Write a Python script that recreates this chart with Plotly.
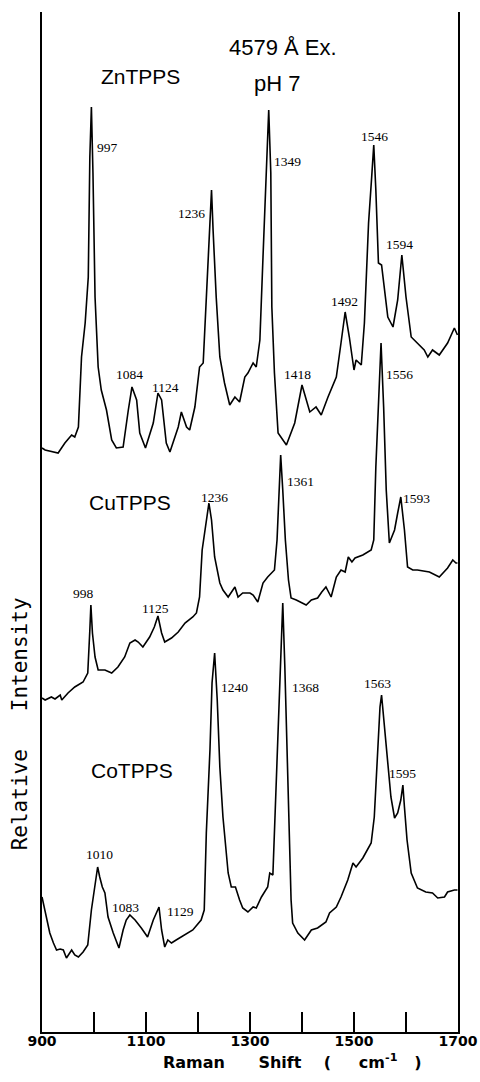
import plotly.graph_objects as go

# ---- data (Raman shift in cm-1, relative intensity in arbitrary units) ----
zn_shift = [900, 906, 931, 944, 957, 963, 970, 976, 983, 989, 992, 995, 998, 1002, 1008, 1014, 1024, 1034, 1043,
            1056, 1066, 1073, 1082, 1088, 1099, 1114, 1123, 1130, 1139, 1146, 1162, 1168, 1178, 1184, 1194, 1203,
            1210, 1216, 1221, 1226, 1229, 1235, 1242, 1251, 1261, 1271, 1280, 1290, 1296, 1306, 1312, 1319, 1325,
            1331, 1336, 1340, 1342, 1347, 1354, 1370, 1386, 1400, 1415, 1427, 1437, 1450, 1466, 1475, 1483, 1491,
            1500, 1504, 1514, 1520, 1528, 1534, 1538, 1542, 1547, 1553, 1559, 1565, 1575, 1584, 1592, 1600, 1610,
            1622, 1635, 1642, 1651, 1664, 1680, 1693, 1699]
zn_int = [584, 582, 579, 589, 597, 595, 605, 675, 709, 755, 875, 925, 859, 735, 665, 642, 622, 592, 584,
          585, 622, 645, 632, 599, 584, 609, 639, 632, 589, 580, 605, 620, 605, 602, 625, 665,
          669, 735, 792, 842, 802, 735, 675, 649, 627, 635, 630, 655, 659, 669, 665, 692, 775,
          859, 922, 859, 725, 659, 599, 587, 609, 647, 620, 625, 617, 635, 655, 689, 720, 695,
          662, 672, 667, 709, 809, 855, 887, 842, 769, 767, 742, 715, 705, 732, 777, 735, 695,
          689, 682, 675, 682, 677, 689, 704, 697]

cu_shift = [900, 906, 918, 925, 935, 938, 950, 963, 979, 988, 992, 994, 997, 1002, 1008, 1021, 1034, 1046, 1059,
            1069, 1079, 1085, 1094, 1107, 1116, 1123, 1130, 1136, 1149, 1162, 1175, 1190, 1197, 1203, 1208, 1213,
            1221, 1226, 1232, 1242, 1248, 1258, 1264, 1271, 1277, 1286, 1300, 1306, 1315, 1325, 1334, 1347, 1352,
            1356, 1359, 1363, 1368, 1374, 1379, 1389, 1398, 1408, 1418, 1430, 1438, 1446, 1456, 1466, 1475, 1483,
            1489, 1496, 1502, 1517, 1533, 1538, 1542, 1548, 1552, 1557, 1562, 1568, 1578, 1584, 1590, 1597, 1603,
            1613, 1622, 1645, 1664, 1680, 1690, 1696, 1699]
cu_int = [334, 332, 335, 333, 337, 332, 339, 345, 350, 359, 402, 427, 399, 375, 362, 362, 359, 365, 375,
          389, 392, 390, 385, 395, 405, 416, 399, 390, 394, 400, 409, 415, 419, 435, 482, 499,
          529, 512, 475, 449, 442, 435, 440, 445, 435, 439, 439, 437, 430, 449, 455, 462, 492,
          552, 577, 542, 492, 452, 434, 432, 430, 427, 432, 434, 440, 445, 435, 455, 462, 460,
          475, 470, 474, 477, 482, 492, 565, 642, 689, 625, 542, 489, 502, 519, 535, 502, 465,
          462, 462, 460, 455, 464, 472, 469, 469]

co_shift = [900, 902, 909, 915, 922, 928, 935, 941, 947, 954, 957, 963, 970, 979, 988, 995, 1002, 1007, 1011,
            1016, 1021, 1027, 1037, 1048, 1056, 1062, 1069, 1079, 1091, 1103, 1114, 1125, 1130, 1136, 1142, 1149,
            1158, 1175, 1190, 1206, 1212, 1216, 1223, 1227, 1232, 1237, 1242, 1248, 1258, 1264, 1272, 1280, 1286,
            1296, 1306, 1312, 1322, 1334, 1338, 1344, 1347, 1352, 1357, 1363, 1367, 1372, 1376, 1379, 1382, 1392,
            1405, 1418, 1430, 1446, 1453, 1466, 1475, 1488, 1498, 1504, 1517, 1533, 1539, 1546, 1550, 1553, 1557,
            1565, 1571, 1578, 1584, 1590, 1594, 1597, 1602, 1610, 1622, 1638, 1651, 1661, 1674, 1680, 1693, 1699]
co_int = [135, 130, 112, 99, 89, 82, 83, 82, 74, 79, 82, 77, 75, 80, 87, 122, 145, 165, 155,
          145, 139, 115, 99, 84, 102, 112, 117, 112, 104, 95, 112, 125, 102, 85, 92, 89,
          92, 97, 102, 112, 122, 199, 282, 349, 379, 332, 265, 215, 159, 145, 145, 132, 124,
          120, 125, 124, 135, 145, 159, 157, 199, 282, 349, 429, 365, 265, 199, 132, 109, 99,
          92, 102, 104, 110, 119, 125, 135, 152, 169, 165, 174, 189, 215, 289, 325, 337, 315,
          272, 235, 214, 219, 232, 247, 225, 192, 159, 144, 140, 139, 134, 135, 140, 142, 142]

# peak labels: (text, shift, intensity)
peak_labels = [
    ("997", 1025, 885), ("1236", 1188, 819), ("1349", 1372, 871), ("1546", 1540, 896),
    ("1594", 1587, 788), ("1492", 1481, 731), ("1084", 1068, 658), ("1124", 1137, 645),
    ("1418", 1392, 658), ("1556", 1588, 658),
    ("1236", 1231, 535), ("1361", 1398, 551), ("1593", 1620, 534), ("998", 979, 439), ("1125", 1118, 424),
    ("1240", 1271, 345), ("1368", 1406, 345), ("1563", 1546, 349), ("1595", 1594, 259),
    ("1010", 1011, 178), ("1083", 1060, 125), ("1129", 1166, 121),
]
sample_labels = [("ZnTPPS", 1089, 956), ("CuTPPS", 1070, 530), ("CoTPPS", 1073, 262)]
title_lines = [("4579 Å Ex.", 1363, 985), ("pH 7", 1351, 949)]

tick_vals = [900, 1100, 1300, 1500, 1700]
tick_text = ["900", "1100", "1300", "1500", "1700"]

x_title = ("Raman" + "&nbsp;" * 6 + "Shift" + "&nbsp;" * 4 + "(" + "&nbsp;" * 5
           + "cm<sup>-1</sup>" + "&nbsp;" * 3 + ")")
y_title = "Relative" + "&nbsp;" * 3 + "Intensity"

fig = go.Figure()
for xs, ys in [(zn_shift, zn_int), (cu_shift, cu_int), (co_shift, co_int)]:
    fig.add_trace(go.Scatter(x=xs, y=ys, mode="lines",
                             line=dict(color="black", width=1.6), showlegend=False))

annotations = []
for t, x, y in peak_labels:
    annotations.append(dict(text=t, x=x, y=y, xref="x", yref="y", showarrow=False,
                            font=dict(family="Liberation Serif", size=13.5, color="black")))
for t, x, y in sample_labels:
    annotations.append(dict(text=t, x=x, y=y, xref="x", yref="y", showarrow=False,
                            font=dict(family="Liberation Sans", size=21, color="black")))
for t, x, y in title_lines:
    annotations.append(dict(text=t, x=x, y=y, xref="x", yref="y", showarrow=False,
                            font=dict(family="Liberation Sans", size=22, color="black")))
annotations.append(dict(text=x_title, x=0.602, y=-0.029,
                        xref="paper", yref="paper", showarrow=False,
                        xanchor="center", yanchor="middle",
                        font=dict(family="DejaVu Sans", size=16, color="black", weight="bold")))
annotations.append(dict(text=y_title, x=-0.052, y=0.302,
                        xref="paper", yref="paper", showarrow=False, textangle=-90,
                        xanchor="center", yanchor="middle",
                        font=dict(family="DejaVu Sans Mono", size=21, color="black")))

fig.update_layout(
    width=480, height=1082, autosize=False,
    margin=dict(l=42, r=22, t=12, b=50, autoexpand=False),
    paper_bgcolor="white", plot_bgcolor="white",
    annotations=annotations,
    xaxis=dict(range=[900, 1700], tickvals=tick_vals, ticktext=tick_text,
               ticks="inside", ticklen=20, tickwidth=2, tickcolor="black",
               minor=dict(dtick=100, tick0=900, ticks="inside", ticklen=20, tickwidth=2,
                          tickcolor="black", showgrid=False),
               ticklabelstandoff=-5, automargin=False,
               showline=True, linecolor="black", linewidth=2, mirror=False,
               showgrid=False, zeroline=False,
               tickfont=dict(family="DejaVu Sans", size=14, color="black", weight="bold")),
    yaxis=dict(range=[0, 1020], showticklabels=False, ticks="", automargin=False,
               showline=True, linecolor="black", linewidth=2, mirror=True,
               showgrid=False, zeroline=False),
)

fig.write_html("out.html", config={"displayModeBar": False},
               post_script="document.body.style.margin='0';")
